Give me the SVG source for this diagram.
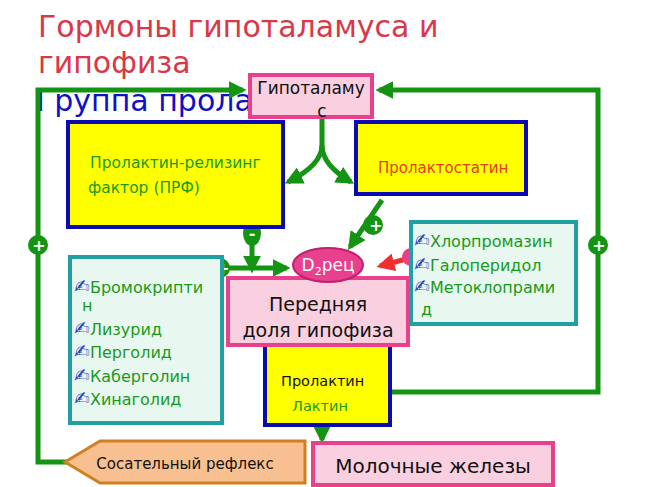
<svg xmlns="http://www.w3.org/2000/svg" width="650" height="487" viewBox="0 0 650 487">
<style>
text{font-family:"DejaVu Sans","Liberation Sans",sans-serif}
.g{stroke:#139413;stroke-width:5;fill:none}
.yb{fill:#ffff00;stroke:#0a0ab4;stroke-width:4}
.pb{fill:#fad0e0;stroke:#e8408c;stroke-width:4}
.tb{fill:#e8f8f0;stroke:#20a0a0;stroke-width:4}
.dr{font-size:16px;fill:#1a9a1a}
.ic{fill:#2040c0;font-size:19px}
.pc{fill:#139413}
.pl{fill:#fff;font-size:16px;font-weight:bold}
</style>
<defs>
<marker id="a" viewBox="0 0 10 10" refX="8" refY="5" markerWidth="3.6" markerHeight="3.6" orient="auto"><path d="M0,0L10,5L0,10z" fill="#139413"/></marker>
<marker id="r" viewBox="0 0 10 10" refX="8" refY="5" markerWidth="3.6" markerHeight="3.6" orient="auto"><path d="M0,0L10,5L0,10z" fill="#f03030"/></marker>
</defs>
<rect width="650" height="487" fill="#fff"/>
<g id="title">
<text x="38" y="37" font-size="30" fill="#d83848">Гормоны гипоталамуса и</text>
<text x="38" y="73" font-size="30" fill="#d83848">гипофиза</text>
<text x="36" y="111" font-size="30" fill="#1010c8">Группа пролактина</text>
</g>
<g id="connectors">
<path class="g" d="M68,462H38V90H243" marker-end="url(#a)"/>
<path class="g" d="M390,392H598V90H379" marker-end="url(#a)"/>
<path class="g" d="M322,117V145Q322,165 288,182" marker-end="url(#a)"/>
<path class="g" d="M322,145Q322,165 351,182" marker-end="url(#a)"/>
<path class="g" d="M252,227V270" marker-end="url(#a)"/>
<path class="g" d="M222,268H287" marker-end="url(#a)"/>
<path class="g" d="M382,200L350,247" marker-end="url(#a)"/>
<path d="M410,258L380,266" stroke="#f03030" stroke-width="5" fill="none" marker-end="url(#r)"/>
<path class="g" d="M322,345V366" marker-end="url(#a)"/>
<path class="g" d="M322,425V440" marker-end="url(#a)"/>
<circle cx="38" cy="245" r="10" class="pc"/><text x="39" y="251" text-anchor="middle" class="pl">+</text>
<circle cx="598" cy="245" r="10" class="pc"/><text x="599" y="251" text-anchor="middle" class="pl">+</text>
<ellipse cx="252" cy="233" rx="9" ry="13" class="pc"/><text x="252" y="239" text-anchor="middle" class="pl">-</text>
<circle cx="220" cy="268" r="10" class="pc"/><text x="223" y="274" text-anchor="middle" class="pl">+</text>
<circle cx="373" cy="225" r="10" class="pc"/><text x="376" y="231" text-anchor="middle" class="pl">+</text>
<circle cx="411" cy="257" r="9" fill="#e8408c"/><text x="412" y="262" text-anchor="middle" class="pl">-</text>
</g>
<g id="hypothalamus"><rect x="250" y="75" width="122" height="42" class="pb"/>
<text x="311" y="94" font-size="17" text-anchor="middle" fill="#111">Гипоталаму</text><text x="322" y="117" font-size="17" text-anchor="middle" fill="#111">с</text></g>
<g id="prf"><rect x="68" y="122" width="215" height="105" class="yb"/>
<text x="90" y="168" font-size="15.5" fill="#1a9a1a">Пролактин-релизинг</text><text x="88" y="193" font-size="15.5" fill="#1a9a1a">фактор (ПРФ)</text></g>
<g id="prolactostatin"><rect x="356" y="122" width="170" height="72" class="yb"/>
<text x="378" y="173" font-size="15" fill="#e04010">Пролактостатин</text></g>
<g id="antagonists"><rect x="411" y="222" width="165" height="102" class="tb"/>
<text x="414" y="247" class="dr"><tspan class="ic">✍</tspan>Хлорпромазин</text>
<text x="414" y="271" class="dr"><tspan class="ic">✍</tspan>Галоперидол</text>
<text x="414" y="293" class="dr"><tspan class="ic">✍</tspan>Метоклопрами</text>
<text x="421" y="315" class="dr">д</text></g>
<g id="agonists"><rect x="70" y="257" width="152" height="166" class="tb"/>
<text x="74" y="293" class="dr"><tspan class="ic">✍</tspan>Бромокрипти</text>
<text x="82" y="311" class="dr">н</text>
<text x="74" y="335" class="dr"><tspan class="ic">✍</tspan>Лизурид</text>
<text x="74" y="358" class="dr"><tspan class="ic">✍</tspan>Перголид</text>
<text x="74" y="382" class="dr"><tspan class="ic">✍</tspan>Каберголин</text>
<text x="74" y="405" class="dr"><tspan class="ic">✍</tspan>Хинаголид</text></g>
<g id="prolactin"><rect x="265" y="345" width="125" height="80" class="yb"/>
<text x="281" y="386" font-size="14.5" fill="#111">Пролактин</text><text x="292" y="411" font-size="14.5" fill="#1a9a1a">Лактин</text></g>
<g id="anterior"><rect x="228" y="278" width="180" height="67" class="pb"/>
<text x="318" y="311" font-size="19" text-anchor="middle" fill="#111">Передняя</text><text x="318" y="337" font-size="19" text-anchor="middle" fill="#111">доля гипофиза</text></g>
<g id="d2"><ellipse cx="328" cy="265" rx="35" ry="17" fill="#e8408c" stroke="#c02070" stroke-width="2"/>
<text x="328" y="271" font-size="17" text-anchor="middle" fill="#fff">D<tspan font-size="11" dy="4">2</tspan><tspan dy="-4">рец</tspan></text></g>
<g id="reflex"><path d="M65,462L100,441H305V483H100z" fill="#f8c090" stroke="#d08020" stroke-width="3"/>
<text x="185" y="469" font-size="15" text-anchor="middle" fill="#111">Сосательный рефлекс</text></g>
<g id="glands"><rect x="313" y="443" width="240" height="42" class="pb"/>
<text x="433" y="473" font-size="20" text-anchor="middle" fill="#111">Молочные железы</text></g>
</svg>
